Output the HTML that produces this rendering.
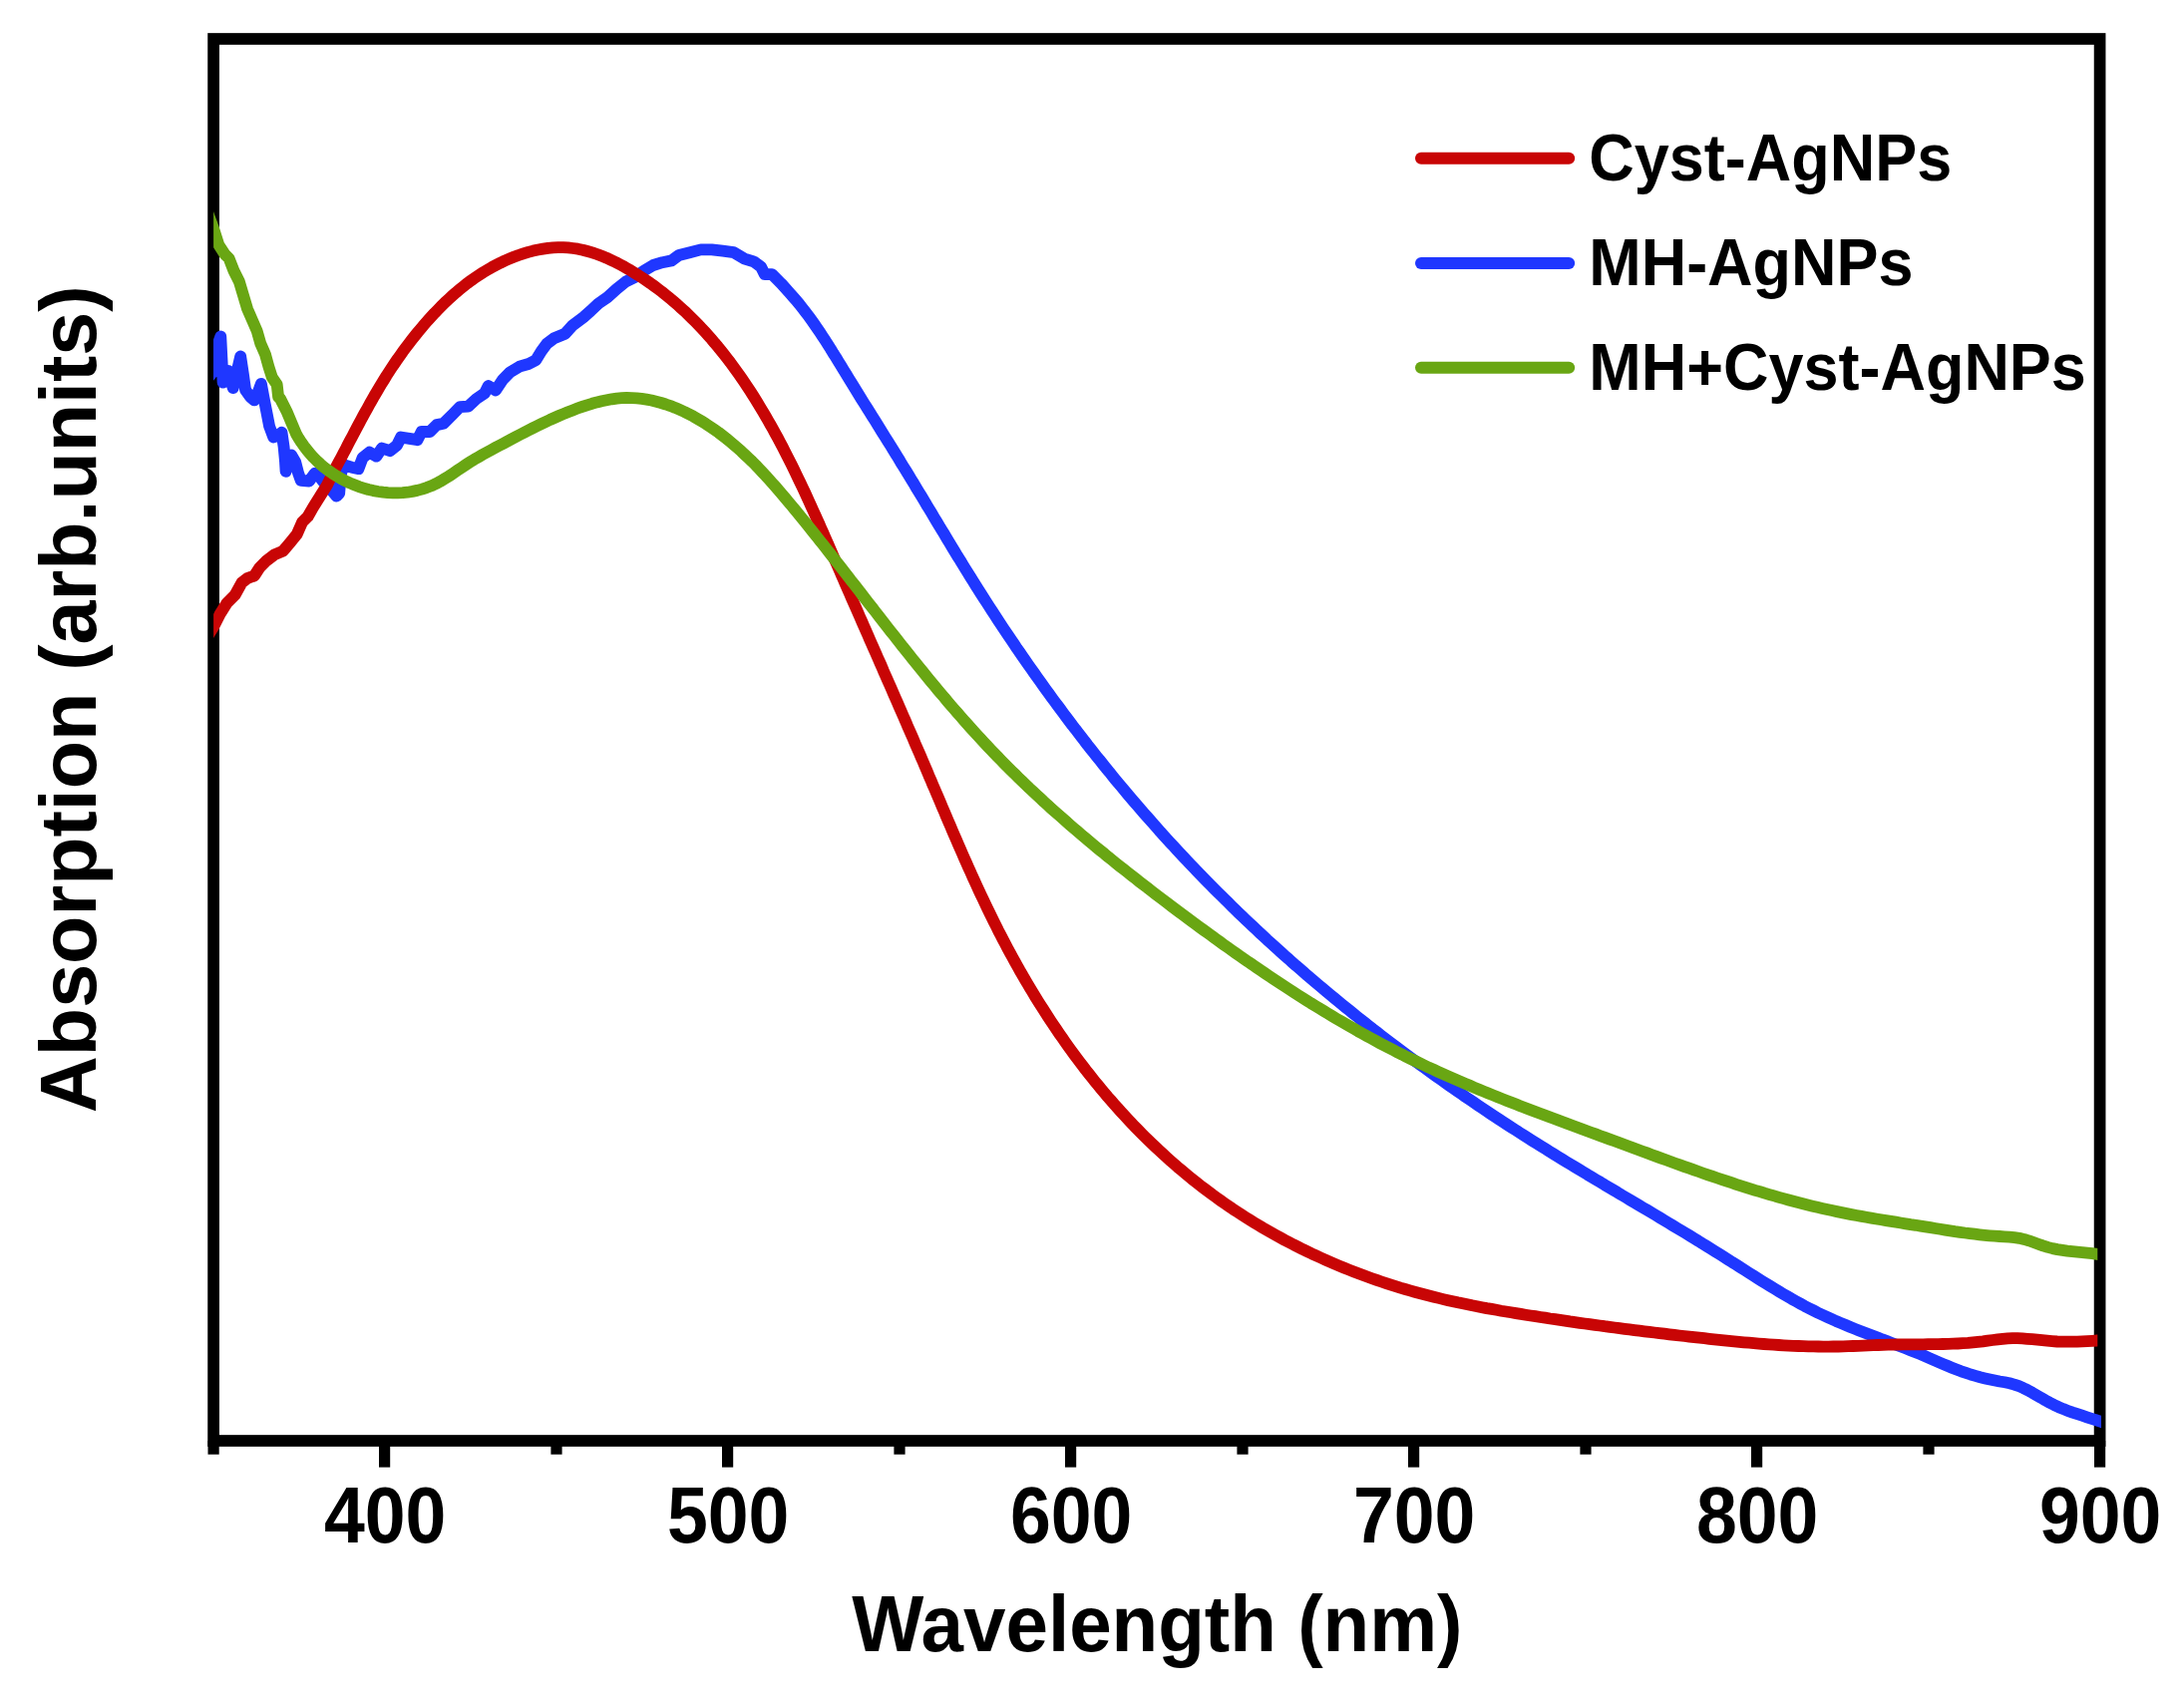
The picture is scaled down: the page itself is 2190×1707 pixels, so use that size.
<!DOCTYPE html>
<html lang="en">
<head>
<meta charset="utf-8">
<title>Absorption spectra of AgNPs</title>
<style>
html,body{margin:0;padding:0;background:#fff;}
body{width:2190px;height:1707px;overflow:hidden;}
svg{display:block;}
text{font-family:"Liberation Sans",sans-serif;font-weight:700;fill:#000;}
.tick{font-size:75.5px;text-anchor:middle;}
.axis{font-size:75.5px;text-anchor:middle;}
.leg{font-size:63px;text-anchor:start;}
.curve{fill:none;stroke-width:11.8;stroke-linejoin:round;stroke-linecap:butt;}
</style>
</head>
<body>
<svg width="2190" height="1707" viewBox="0 0 2190 1707">
<rect x="0" y="0" width="2190" height="1707" fill="#ffffff"/>
<defs>
<clipPath id="plotclip"><rect x="214.1" y="39" width="1889.2" height="1406"/></clipPath>
<clipPath id="plotclipb"><rect x="214.1" y="39" width="1893" height="1406"/></clipPath>
</defs>
<!-- frame -->
<rect x="214.1" y="39" width="1891.5" height="1406" fill="none" stroke="#000" stroke-width="11.7"/>
<!-- ticks -->
<g stroke="#000" stroke-width="11.2" fill="none">
<line x1="385.6" y1="1445" x2="385.6" y2="1471.6"/>
<line x1="729.6" y1="1445" x2="729.6" y2="1471.6"/>
<line x1="1073.6" y1="1445" x2="1073.6" y2="1471.6"/>
<line x1="1417.6" y1="1445" x2="1417.6" y2="1471.6"/>
<line x1="1761.6" y1="1445" x2="1761.6" y2="1471.6"/>
<line x1="2105.6" y1="1445" x2="2105.6" y2="1471.6"/>
<line x1="214.1" y1="1445" x2="214.1" y2="1458.7"/>
<line x1="558" y1="1445" x2="558" y2="1458.7"/>
<line x1="902" y1="1445" x2="902" y2="1458.7"/>
<line x1="1246" y1="1445" x2="1246" y2="1458.7"/>
<line x1="1590" y1="1445" x2="1590" y2="1458.7"/>
<line x1="1934" y1="1445" x2="1934" y2="1458.7"/>
</g>
<!-- tick labels -->
<text class="tick" transform="translate(386.2,1547.3) scale(0.973,1.044)">400</text>
<text class="tick" transform="translate(730.2,1547.3) scale(0.973,1.044)">500</text>
<text class="tick" transform="translate(1074.2,1547.3) scale(0.973,1.044)">600</text>
<text class="tick" transform="translate(1418.2,1547.3) scale(0.973,1.044)">700</text>
<text class="tick" transform="translate(1762.2,1547.3) scale(0.973,1.044)">800</text>
<text class="tick" transform="translate(2106.2,1547.3) scale(0.973,1.044)">900</text>
<!-- axis titles -->
<text class="axis" transform="translate(1160.4,1656) scale(1.0113,1.06)">Wavelength (nm)</text>
<text class="axis" transform="translate(96.1,701.3) rotate(-90) scale(1.047,1.06)">Absorption (arb.units)</text>
<!-- curves -->
<g clip-path="url(#plotclipb)"><path class="curve" stroke="#1F37FF" d="M208.0,380.0L214.2,371.9L216.5,351.2L221.3,337.5L222.7,365.0L223.6,383.6L228.9,371.9L233.7,389.1L237.8,371.9L241.2,357.4L244.0,376.0L246.1,391.1L250.9,398.0L255.0,401.4L259.1,392.5L261.9,384.9L264.6,399.4L267.4,413.7L270.1,427.5L274.2,438.5L278.4,437.1L282.5,433.7L284.6,448.1L285.9,461.9L286.6,472.9L289.4,464.6L292.1,456.4L296.2,463.2L299.0,474.2L301.7,481.8L310.0,482.5L315.5,474.9L319.6,477.0L323.7,482.5L330.6,489.4L337.5,497.6L340.2,494.9L341.6,477.0L344.4,466.0L352.6,468.7L359.5,470.1L363.6,459.1L370.5,453.6L377.4,457.7L382.9,449.5L391.1,452.2L398.0,446.7L402.1,438.5L410.4,439.9L418.6,441.2L422.7,433.0L431.0,433.0L437.9,426.1L444.7,424.7L454.4,415.1L461.2,408.2L469.5,407.6L477.7,400.0L486.0,394.3L489.6,387.0L497.0,391.6L504.3,380.6L511.6,373.2L520.8,367.7L530.0,365.0L537.3,361.3L542.8,352.2L548.3,344.8L555.6,339.3L566.6,334.7L574.0,326.5L585.0,318.2L592.3,311.8L600.0,304.5L609.2,298.1L618.3,289.8L627.5,282.5L636.7,277.9L645.8,271.5L655.0,266.0L664.2,263.2L673.3,261.4L680.7,255.9L691.7,253.2L702.7,250.4L713.7,250.4L724.7,251.7L735.7,253.2L746.7,259.6L755.8,262.3L763.2,267.8L766.8,275.2L774.2,275.2L783.3,284.3L792.3,294.4L795.5,298.0L798.7,301.7L801.8,305.4L804.9,309.3L807.8,313.1L810.8,317.0L813.7,321.0L816.5,325.0L819.3,329.1L822.1,333.2L824.9,337.4L827.6,341.5L830.2,345.7L832.9,349.9L835.5,354.2L838.2,358.4L840.8,362.7L843.4,366.9L846.0,371.2L848.6,375.4L851.2,379.7L853.8,383.9L856.4,388.1L859.0,392.3L861.6,396.6L864.2,400.8L866.8,405.0L869.5,409.2L872.1,413.4L874.7,417.6L877.3,421.7L879.9,425.9L882.5,430.1L885.1,434.3L887.7,438.5L890.3,442.7L893.0,446.9L895.6,451.1L898.2,455.3L900.8,459.5L903.3,463.8L905.9,468.0L908.5,472.2L911.1,476.4L913.7,480.7L916.3,484.9L918.8,489.2L921.4,493.5L924.0,497.7L926.6,502.0L929.1,506.3L931.7,510.5L934.3,514.8L936.8,519.1L939.4,523.4L942.0,527.7L944.6,532.0L947.2,536.2L949.7,540.5L952.3,544.8L954.9,549.1L957.5,553.4L960.1,557.7L962.8,561.9L965.4,566.2L968.0,570.5L970.6,574.7L973.3,579.0L975.9,583.2L978.6,587.5L981.3,591.7L984.0,596.0L986.7,600.2L989.4,604.4L992.1,608.6L994.8,612.8L997.6,617.0L1000.3,621.2L1003.1,625.4L1005.8,629.6L1008.6,633.8L1011.4,637.9L1014.2,642.1L1017.0,646.2L1019.8,650.4L1022.7,654.5L1025.5,658.6L1028.3,662.7L1031.2,666.8L1034.1,670.9L1037.0,675.0L1039.9,679.1L1042.8,683.2L1045.7,687.2L1048.6,691.3L1051.5,695.3L1054.5,699.4L1057.4,703.4L1060.4,707.4L1063.4,711.4L1066.3,715.4L1069.3,719.4L1072.3,723.4L1075.3,727.4L1078.4,731.3L1081.4,735.3L1084.4,739.2L1087.5,743.1L1090.5,747.1L1093.6,751.0L1096.7,754.9L1099.8,758.8L1102.9,762.6L1106.0,766.5L1109.1,770.4L1112.3,774.2L1115.4,778.1L1118.5,781.9L1121.7,785.7L1124.9,789.5L1128.0,793.3L1131.2,797.1L1134.4,800.8L1137.6,804.6L1140.9,808.4L1144.1,812.1L1147.3,815.8L1150.6,819.5L1153.8,823.2L1157.1,826.9L1160.4,830.6L1163.6,834.3L1166.9,837.9L1170.2,841.6L1173.5,845.2L1176.9,848.8L1180.2,852.4L1183.5,856.0L1186.9,859.6L1190.3,863.2L1193.6,866.7L1197.0,870.3L1200.4,873.8L1203.8,877.3L1207.2,880.8L1210.6,884.3L1214.1,887.8L1217.5,891.3L1221.0,894.8L1224.4,898.2L1227.9,901.7L1231.4,905.1L1234.9,908.6L1238.4,912.0L1241.9,915.4L1245.4,918.8L1249.0,922.2L1252.5,925.5L1256.1,928.9L1259.7,932.3L1263.2,935.6L1266.8,938.9L1270.4,942.3L1274.1,945.6L1277.7,948.9L1281.3,952.2L1285.0,955.5L1288.7,958.8L1292.4,962.0L1296.0,965.3L1299.7,968.6L1303.5,971.8L1307.2,975.0L1310.9,978.3L1314.7,981.5L1318.5,984.7L1322.2,987.9L1326.0,991.1L1329.8,994.3L1333.7,997.5L1337.5,1000.6L1341.3,1003.8L1345.2,1007.0L1349.0,1010.1L1352.9,1013.2L1356.8,1016.4L1360.7,1019.5L1364.6,1022.6L1368.5,1025.7L1372.5,1028.8L1376.4,1031.9L1380.4,1034.9L1384.3,1038.0L1388.3,1041.1L1392.3,1044.1L1396.3,1047.1L1400.3,1050.2L1404.3,1053.2L1408.3,1056.2L1412.4,1059.2L1416.4,1062.2L1420.4,1065.2L1424.5,1068.1L1428.6,1071.1L1432.6,1074.0L1436.7,1077.0L1440.8,1079.9L1444.9,1082.8L1449.0,1085.7L1453.1,1088.6L1457.2,1091.5L1461.4,1094.4L1465.5,1097.2L1469.6,1100.1L1473.8,1102.9L1477.9,1105.7L1482.1,1108.6L1486.3,1111.4L1490.4,1114.2L1494.6,1117.0L1498.8,1119.7L1503.0,1122.5L1507.2,1125.2L1511.4,1128.0L1515.6,1130.7L1519.8,1133.4L1524.0,1136.1L1528.2,1138.8L1532.5,1141.5L1536.7,1144.2L1540.9,1146.8L1545.2,1149.5L1549.4,1152.1L1553.6,1154.8L1557.9,1157.4L1562.1,1160.0L1566.4,1162.6L1570.6,1165.2L1574.9,1167.8L1579.2,1170.4L1583.4,1172.9L1587.7,1175.5L1591.9,1178.1L1596.2,1180.6L1600.5,1183.2L1604.8,1185.7L1609.0,1188.3L1613.3,1190.8L1617.6,1193.4L1621.9,1195.9L1626.1,1198.5L1630.4,1201.0L1634.7,1203.6L1639.0,1206.1L1643.2,1208.6L1647.5,1211.2L1651.8,1213.7L1656.1,1216.3L1660.3,1218.8L1664.6,1221.4L1668.9,1224.0L1673.1,1226.5L1677.4,1229.1L1681.7,1231.7L1686.0,1234.3L1690.2,1236.8L1694.5,1239.4L1698.7,1242.0L1703.0,1244.6L1707.2,1247.3L1711.5,1249.9L1715.7,1252.5L1720.0,1255.2L1724.2,1257.8L1728.5,1260.5L1732.7,1263.2L1736.9,1265.9L1741.2,1268.5L1745.4,1271.2L1749.6,1273.9L1753.8,1276.6L1758.1,1279.3L1762.3,1282.0L1766.6,1284.7L1770.8,1287.3L1775.1,1289.9L1779.4,1292.5L1783.7,1295.1L1788.0,1297.7L1792.3,1300.2L1796.6,1302.7L1801.0,1305.1L1805.3,1307.5L1809.7,1309.9L1814.2,1312.2L1818.6,1314.4L1823.1,1316.7L1827.5,1318.8L1832.1,1320.9L1836.6,1322.9L1841.2,1325.0L1845.7,1326.9L1850.3,1328.8L1854.9,1330.7L1859.6,1332.6L1864.2,1334.4L1868.9,1336.2L1873.5,1338.0L1878.2,1339.8L1882.9,1341.6L1887.5,1343.4L1892.2,1345.1L1896.9,1346.9L1901.6,1348.7L1906.2,1350.5L1910.9,1352.3L1915.6,1354.2L1920.2,1356.0L1924.9,1357.9L1929.5,1359.8L1934.1,1361.8L1938.7,1363.8L1943.3,1365.8L1947.9,1367.8L1952.6,1369.8L1957.2,1371.7L1961.8,1373.5L1966.5,1375.3L1971.3,1376.9L1976.0,1378.5L1980.8,1379.9L1985.6,1381.2L1990.5,1382.4L1995.4,1383.5L2000.3,1384.5L2005.2,1385.5L2010.1,1386.3L2015.0,1387.3L2019.8,1388.6L2024.5,1390.2L2029.0,1392.2L2033.5,1394.4L2037.9,1396.8L2042.2,1399.3L2046.6,1401.8L2050.9,1404.4L2055.3,1406.8L2059.8,1409.1L2064.3,1411.2L2068.9,1413.1L2073.6,1414.9L2078.3,1416.6L2083.1,1418.2L2087.8,1419.7L2092.6,1421.3L2097.4,1422.8L2102.2,1424.4L2106.9,1426.0L2114.9,1428.6"/></g>
<g clip-path="url(#plotclip)"><path class="curve" stroke="#C80505" d="M204.0,645.0L214.4,628.2L220.6,615.9L227.5,604.9L235.7,596.6L242.6,584.2L248.1,580.1L255.0,577.4L260.5,569.1L267.4,562.2L275.6,556.1L283.9,552.6L290.7,544.4L297.6,536.1L303.1,523.7L308.6,518.2L314.1,508.6L321.0,497.6L327.9,486.6L335.4,471.4L337.7,467.2L339.9,463.0L342.2,458.8L344.4,454.6L346.6,450.4L348.7,446.3L350.9,442.1L353.1,438.0L355.3,433.8L357.4,429.7L359.6,425.6L361.8,421.5L364.0,417.4L366.2,413.4L368.5,409.3L370.7,405.2L373.0,401.2L375.3,397.1L377.7,393.1L380.1,389.0L382.5,385.0L385.0,381.0L387.5,376.9L390.1,372.9L392.7,368.9L395.4,364.9L398.1,360.9L401.0,356.8L403.8,352.8L406.8,348.8L409.7,344.9L412.8,340.9L415.9,337.0L419.1,333.0L422.3,329.2L425.6,325.3L428.9,321.5L432.3,317.8L435.7,314.1L439.2,310.5L442.7,306.9L446.2,303.4L449.9,300.0L453.5,296.7L457.2,293.4L460.9,290.3L464.7,287.2L468.5,284.2L472.4,281.3L476.4,278.5L480.4,275.8L484.4,273.2L488.6,270.7L492.8,268.3L497.1,266.0L501.4,263.8L505.9,261.7L510.5,259.7L515.1,257.8L519.9,256.0L524.7,254.4L529.6,252.9L534.5,251.6L539.5,250.5L544.5,249.6L549.6,248.8L554.6,248.3L559.6,248.1L564.7,248.1L569.6,248.4L574.6,249.0L579.5,249.7L584.4,250.7L589.2,252.0L594.0,253.4L598.8,255.0L603.5,256.8L608.2,258.7L612.8,260.8L617.4,263.0L621.9,265.4L626.4,267.8L630.8,270.3L635.1,273.0L639.4,275.6L643.7,278.4L647.8,281.2L652.0,284.0L656.0,286.9L660.0,289.9L664.0,292.9L667.8,296.0L671.7,299.1L675.4,302.3L679.2,305.5L682.8,308.8L686.5,312.1L690.0,315.5L693.5,318.9L697.0,322.4L700.4,325.9L703.8,329.5L707.1,333.1L710.4,336.7L713.7,340.4L716.8,344.2L720.0,347.9L723.1,351.7L726.2,355.6L729.2,359.5L732.2,363.4L735.1,367.4L738.0,371.4L740.9,375.4L743.7,379.4L746.5,383.5L749.3,387.7L752.0,391.8L754.7,396.0L757.3,400.2L759.9,404.4L762.5,408.7L765.1,413.0L767.6,417.3L770.1,421.6L772.6,426.0L775.1,430.4L777.5,434.8L779.9,439.2L782.3,443.7L784.6,448.1L786.9,452.6L789.2,457.1L791.5,461.6L793.8,466.2L796.0,470.7L798.2,475.3L800.4,479.8L802.6,484.4L804.8,489.0L807.0,493.6L809.1,498.2L811.2,502.9L813.3,507.5L815.4,512.1L817.5,516.7L819.6,521.4L821.7,526.0L823.7,530.7L825.8,535.3L827.8,540.0L829.9,544.6L831.9,549.3L833.9,553.9L835.9,558.6L837.9,563.2L840.0,567.9L842.0,572.5L844.0,577.1L846.0,581.7L848.0,586.3L850.0,590.9L852.0,595.5L854.0,600.1L856.0,604.7L858.1,609.3L860.1,613.9L862.1,618.5L864.1,623.0L866.1,627.6L868.1,632.2L870.1,636.7L872.1,641.3L874.1,645.8L876.1,650.4L878.1,654.9L880.1,659.5L882.1,664.0L884.1,668.5L886.0,673.1L888.0,677.6L890.0,682.2L892.0,686.7L894.0,691.2L896.0,695.8L898.0,700.3L900.0,704.9L901.9,709.4L903.9,713.9L905.9,718.5L907.9,723.0L909.8,727.6L911.8,732.1L913.8,736.7L915.8,741.2L917.7,745.8L919.7,750.3L921.7,754.9L923.6,759.4L925.6,764.0L927.5,768.6L929.5,773.2L931.4,777.8L933.4,782.3L935.3,786.9L937.3,791.5L939.2,796.1L941.2,800.7L943.2,805.3L945.1,809.9L947.1,814.5L949.0,819.2L951.0,823.8L953.0,828.4L954.9,833.0L956.9,837.6L958.9,842.2L960.9,846.8L962.9,851.4L964.9,856.0L966.9,860.6L969.0,865.2L971.0,869.8L973.1,874.4L975.1,879.0L977.2,883.5L979.3,888.1L981.4,892.7L983.5,897.2L985.7,901.8L987.8,906.3L990.0,910.8L992.2,915.4L994.4,919.9L996.6,924.4L998.9,928.9L1001.1,933.4L1003.4,937.8L1005.7,942.3L1008.1,946.8L1010.4,951.2L1012.8,955.6L1015.2,960.0L1017.6,964.4L1020.1,968.8L1022.5,973.2L1025.0,977.5L1027.5,981.9L1030.1,986.2L1032.6,990.5L1035.2,994.8L1037.8,999.1L1040.4,1003.3L1043.1,1007.6L1045.8,1011.8L1048.5,1016.0L1051.2,1020.2L1053.9,1024.4L1056.7,1028.6L1059.5,1032.7L1062.3,1036.8L1065.2,1040.9L1068.0,1045.0L1070.9,1049.1L1073.8,1053.1L1076.8,1057.2L1079.8,1061.2L1082.8,1065.2L1085.8,1069.1L1088.8,1073.1L1091.9,1077.0L1095.0,1080.9L1098.1,1084.8L1101.2,1088.6L1104.4,1092.5L1107.6,1096.3L1110.8,1100.1L1114.1,1103.8L1117.4,1107.6L1120.7,1111.3L1124.0,1115.0L1127.3,1118.6L1130.7,1122.3L1134.1,1125.9L1137.5,1129.5L1141.0,1133.0L1144.5,1136.6L1148.0,1140.1L1151.5,1143.5L1155.1,1147.0L1158.7,1150.4L1162.3,1153.8L1166.0,1157.2L1169.6,1160.5L1173.3,1163.8L1177.1,1167.1L1180.8,1170.4L1184.6,1173.6L1188.4,1176.8L1192.3,1180.0L1196.1,1183.1L1200.0,1186.2L1204.0,1189.3L1207.9,1192.3L1211.9,1195.3L1215.9,1198.3L1220.0,1201.2L1224.0,1204.1L1228.1,1207.0L1232.3,1209.9L1236.4,1212.7L1240.6,1215.4L1244.8,1218.2L1249.0,1220.9L1253.3,1223.6L1257.6,1226.2L1261.9,1228.8L1266.2,1231.4L1270.6,1233.9L1275.0,1236.4L1279.4,1238.9L1283.8,1241.3L1288.2,1243.7L1292.7,1246.0L1297.2,1248.4L1301.7,1250.6L1306.2,1252.9L1310.8,1255.1L1315.3,1257.3L1319.9,1259.4L1324.5,1261.5L1329.1,1263.6L1333.7,1265.6L1338.3,1267.6L1343.0,1269.6L1347.6,1271.5L1352.3,1273.4L1357.0,1275.2L1361.7,1277.0L1366.4,1278.8L1371.1,1280.5L1375.8,1282.2L1380.6,1283.9L1385.3,1285.5L1390.1,1287.1L1394.8,1288.6L1399.6,1290.1L1404.3,1291.6L1409.1,1293.0L1413.9,1294.4L1418.6,1295.7L1423.4,1297.0L1428.2,1298.3L1433.0,1299.5L1437.8,1300.7L1442.6,1301.9L1447.4,1303.1L1452.2,1304.2L1457.0,1305.2L1461.8,1306.3L1466.7,1307.3L1471.5,1308.3L1476.3,1309.3L1481.2,1310.2L1486.0,1311.2L1490.8,1312.1L1495.7,1312.9L1500.6,1313.8L1505.4,1314.7L1510.3,1315.5L1515.2,1316.3L1520.1,1317.1L1525.0,1317.9L1529.8,1318.7L1534.8,1319.5L1539.7,1320.2L1544.6,1321.0L1549.5,1321.7L1554.4,1322.5L1559.4,1323.2L1564.3,1323.9L1569.3,1324.6L1574.2,1325.4L1579.2,1326.1L1584.1,1326.8L1589.1,1327.5L1594.1,1328.2L1599.1,1328.8L1604.1,1329.5L1609.0,1330.2L1614.0,1330.8L1619.0,1331.5L1624.0,1332.2L1629.0,1332.8L1634.0,1333.4L1639.0,1334.1L1644.0,1334.7L1649.0,1335.3L1654.0,1335.9L1659.0,1336.5L1664.0,1337.1L1669.0,1337.7L1674.0,1338.3L1679.0,1338.9L1684.0,1339.5L1689.0,1340.0L1694.0,1340.6L1699.0,1341.2L1704.0,1341.7L1709.0,1342.2L1714.0,1342.8L1719.0,1343.3L1723.9,1343.8L1728.9,1344.4L1733.9,1344.9L1738.9,1345.3L1743.9,1345.8L1748.8,1346.3L1753.8,1346.7L1758.8,1347.2L1763.7,1347.6L1768.7,1348.0L1773.7,1348.3L1778.6,1348.7L1783.6,1349.0L1788.6,1349.3L1793.5,1349.6L1798.5,1349.8L1803.5,1350.0L1808.4,1350.2L1813.4,1350.3L1818.4,1350.4L1823.4,1350.5L1828.3,1350.6L1833.3,1350.6L1838.3,1350.5L1843.3,1350.5L1848.3,1350.3L1853.3,1350.2L1858.3,1350.0L1863.3,1349.8L1868.3,1349.6L1873.3,1349.4L1878.3,1349.2L1883.3,1349.0L1888.3,1348.9L1893.3,1348.7L1898.3,1348.6L1903.3,1348.5L1908.3,1348.4L1913.3,1348.3L1918.3,1348.3L1923.3,1348.3L1928.3,1348.3L1933.3,1348.2L1938.3,1348.2L1943.3,1348.1L1948.3,1348.0L1953.3,1347.9L1958.3,1347.7L1963.3,1347.5L1968.3,1347.2L1973.3,1346.9L1978.3,1346.4L1983.3,1345.9L1988.3,1345.3L1993.2,1344.6L1998.2,1344.0L2003.2,1343.3L2008.1,1342.8L2013.1,1342.4L2018.1,1342.2L2023.0,1342.2L2028.0,1342.4L2032.9,1342.8L2037.9,1343.2L2042.9,1343.7L2047.9,1344.2L2052.8,1344.7L2057.8,1345.1L2062.8,1345.5L2067.8,1345.7L2072.8,1345.7L2077.8,1345.7L2082.9,1345.6L2087.9,1345.4L2092.9,1345.1L2097.9,1344.8L2102.9,1344.5L2110.9,1344.1"/>
<path class="curve" stroke="#69A613" d="M204.0,202.0L214.2,229.6L219.2,245.4L225.4,255.0L229.6,259.1L234.4,271.5L239.9,282.5L244.0,296.2L248.1,310.0L252.9,321.0L257.7,332.0L261.2,344.4L266.0,355.4L269.4,367.7L272.9,378.7L277.7,385.6L279.1,398.0L281.1,400.0L288.0,413.7L297.0,435.3L299.5,439.6L302.2,443.7L305.0,447.7L308.0,451.5L311.1,455.3L314.4,458.9L317.9,462.4L321.5,465.7L325.3,468.9L329.2,471.9L333.3,474.7L337.5,477.4L341.8,479.9L346.2,482.2L350.7,484.4L355.3,486.3L359.9,488.1L364.7,489.6L369.5,491.0L374.3,492.1L379.2,493.0L384.1,493.7L389.0,494.2L393.9,494.4L398.8,494.4L403.8,494.2L408.7,493.7L413.5,492.9L418.3,491.9L423.1,490.6L427.8,489.1L432.5,487.3L437.0,485.2L441.5,482.8L445.9,480.2L450.3,477.5L454.6,474.6L458.8,471.7L463.1,468.8L467.3,466.0L471.5,463.3L475.7,460.7L479.9,458.3L484.0,455.9L488.2,453.6L492.4,451.3L496.6,449.1L500.7,446.9L504.9,444.7L509.0,442.5L513.2,440.3L517.4,438.1L521.5,435.9L525.7,433.7L530.0,431.5L534.2,429.4L538.5,427.2L542.8,425.1L547.1,423.1L551.5,421.0L556.0,419.0L560.5,417.0L565.0,415.1L569.6,413.2L574.3,411.4L579.1,409.6L583.9,407.9L588.7,406.3L593.6,404.8L598.6,403.4L603.5,402.2L608.5,401.2L613.5,400.3L618.5,399.6L623.6,399.2L628.5,399.0L633.5,399.1L638.5,399.4L643.4,399.9L648.3,400.6L653.2,401.5L658.0,402.7L662.8,404.0L667.6,405.5L672.3,407.1L677.0,408.9L681.6,410.9L686.2,413.0L690.7,415.3L695.2,417.6L699.5,420.1L703.9,422.7L708.1,425.3L712.3,428.1L716.4,430.9L720.5,433.8L724.4,436.8L728.4,439.9L732.2,443.0L736.0,446.2L739.7,449.4L743.4,452.7L747.0,456.1L750.6,459.5L754.2,462.9L757.7,466.4L761.1,470.0L764.5,473.6L767.9,477.2L771.2,480.9L774.5,484.6L777.8,488.3L781.1,492.1L784.3,495.8L787.5,499.6L790.7,503.5L793.9,507.3L797.1,511.1L800.3,515.0L803.4,518.9L806.6,522.8L809.7,526.7L812.8,530.5L816.0,534.5L819.1,538.4L822.2,542.3L825.3,546.2L828.4,550.1L831.5,554.1L834.6,558.0L837.7,562.0L840.8,565.9L843.9,569.9L847.0,573.8L850.1,577.8L853.1,581.8L856.2,585.7L859.3,589.7L862.4,593.6L865.4,597.6L868.5,601.6L871.6,605.6L874.7,609.5L877.8,613.5L880.8,617.4L883.9,621.4L887.0,625.4L890.1,629.3L893.2,633.3L896.3,637.2L899.4,641.2L902.5,645.1L905.6,649.1L908.8,653.0L911.9,656.9L915.0,660.8L918.2,664.7L921.3,668.6L924.5,672.5L927.7,676.4L930.8,680.3L934.0,684.2L937.2,688.0L940.4,691.9L943.6,695.7L946.9,699.5L950.1,703.4L953.3,707.2L956.6,711.0L959.9,714.7L963.2,718.5L966.5,722.3L969.8,726.0L973.1,729.7L976.5,733.4L979.8,737.1L983.2,740.8L986.6,744.5L990.0,748.1L993.4,751.7L996.9,755.3L1000.3,758.9L1003.8,762.5L1007.3,766.1L1010.8,769.6L1014.3,773.1L1017.9,776.6L1021.4,780.1L1025.0,783.6L1028.6,787.0L1032.2,790.5L1035.9,793.9L1039.5,797.3L1043.2,800.7L1046.8,804.1L1050.5,807.4L1054.2,810.8L1057.9,814.1L1061.7,817.4L1065.4,820.7L1069.2,824.0L1072.9,827.3L1076.7,830.6L1080.5,833.8L1084.3,837.1L1088.1,840.3L1091.9,843.5L1095.8,846.7L1099.6,849.9L1103.5,853.1L1107.4,856.2L1111.2,859.4L1115.1,862.5L1119.0,865.7L1122.9,868.8L1126.9,871.9L1130.8,875.0L1134.7,878.1L1138.7,881.2L1142.6,884.3L1146.6,887.4L1150.6,890.4L1154.5,893.5L1158.5,896.6L1162.5,899.6L1166.5,902.6L1170.5,905.7L1174.5,908.7L1178.5,911.7L1182.5,914.7L1186.6,917.7L1190.6,920.7L1194.6,923.7L1198.7,926.7L1202.7,929.7L1206.7,932.6L1210.8,935.6L1214.9,938.5L1218.9,941.5L1223.0,944.4L1227.1,947.4L1231.2,950.3L1235.3,953.2L1239.4,956.1L1243.5,959.0L1247.6,961.8L1251.7,964.7L1255.9,967.5L1260.0,970.4L1264.1,973.2L1268.3,976.0L1272.5,978.8L1276.6,981.6L1280.8,984.4L1285.0,987.2L1289.2,989.9L1293.4,992.6L1297.6,995.4L1301.8,998.1L1306.0,1000.7L1310.3,1003.4L1314.5,1006.1L1318.8,1008.7L1323.0,1011.3L1327.3,1013.9L1331.6,1016.5L1335.9,1019.1L1340.2,1021.7L1344.5,1024.2L1348.8,1026.7L1353.1,1029.2L1357.5,1031.7L1361.8,1034.2L1366.2,1036.6L1370.5,1039.0L1374.9,1041.4L1379.3,1043.8L1383.7,1046.2L1388.1,1048.5L1392.5,1050.8L1397.0,1053.1L1401.4,1055.4L1405.9,1057.6L1410.3,1059.9L1414.8,1062.1L1419.3,1064.2L1423.8,1066.4L1428.3,1068.5L1432.8,1070.7L1437.4,1072.7L1441.9,1074.8L1446.5,1076.9L1451.0,1078.9L1455.6,1080.9L1460.2,1082.9L1464.8,1084.9L1469.4,1086.9L1474.0,1088.8L1478.6,1090.8L1483.2,1092.7L1487.8,1094.6L1492.4,1096.5L1497.1,1098.4L1501.7,1100.2L1506.4,1102.1L1511.0,1103.9L1515.7,1105.8L1520.3,1107.6L1525.0,1109.4L1529.7,1111.2L1534.3,1113.0L1539.0,1114.8L1543.7,1116.5L1548.4,1118.3L1553.1,1120.1L1557.8,1121.8L1562.5,1123.6L1567.1,1125.3L1571.8,1127.1L1576.5,1128.8L1581.2,1130.5L1585.9,1132.3L1590.6,1134.0L1595.3,1135.7L1600.0,1137.4L1604.7,1139.2L1609.4,1140.9L1614.1,1142.6L1618.8,1144.3L1623.5,1146.1L1628.2,1147.8L1632.9,1149.5L1637.6,1151.3L1642.3,1153.0L1647.0,1154.7L1651.7,1156.4L1656.4,1158.2L1661.0,1159.9L1665.7,1161.6L1670.4,1163.3L1675.1,1165.0L1679.8,1166.7L1684.5,1168.4L1689.2,1170.1L1693.9,1171.7L1698.6,1173.4L1703.3,1175.0L1708.0,1176.7L1712.7,1178.3L1717.4,1179.9L1722.1,1181.5L1726.9,1183.1L1731.6,1184.7L1736.3,1186.2L1741.0,1187.8L1745.8,1189.3L1750.5,1190.8L1755.3,1192.3L1760.0,1193.8L1764.8,1195.2L1769.5,1196.7L1774.3,1198.1L1779.1,1199.4L1783.9,1200.8L1788.7,1202.1L1793.5,1203.5L1798.3,1204.8L1803.1,1206.0L1807.9,1207.3L1812.7,1208.5L1817.6,1209.7L1822.4,1210.8L1827.3,1211.9L1832.1,1213.0L1837.0,1214.1L1841.9,1215.1L1846.8,1216.1L1851.7,1217.1L1856.6,1218.1L1861.5,1219.0L1866.5,1219.9L1871.4,1220.8L1876.3,1221.6L1881.3,1222.5L1886.2,1223.3L1891.2,1224.1L1896.1,1224.9L1901.1,1225.7L1906.0,1226.5L1911.0,1227.3L1915.9,1228.1L1920.9,1228.8L1925.8,1229.6L1930.7,1230.4L1935.7,1231.2L1940.6,1232.0L1945.5,1232.8L1950.5,1233.6L1955.4,1234.3L1960.3,1235.1L1965.3,1235.8L1970.2,1236.5L1975.2,1237.1L1980.1,1237.7L1985.1,1238.3L1990.0,1238.8L1995.0,1239.3L2000.0,1239.7L2005.0,1240.0L2010.0,1240.3L2014.9,1240.6L2019.9,1241.1L2024.8,1241.8L2029.6,1242.9L2034.4,1244.3L2039.2,1246.0L2043.9,1247.7L2048.6,1249.4L2053.4,1250.9L2058.2,1252.1L2063.1,1253.1L2068.1,1253.9L2073.0,1254.6L2078.0,1255.2L2083.0,1255.7L2088.0,1256.1L2093.0,1256.7L2098.0,1257.2L2102.9,1257.9L2110.9,1258.9"/></g>
<!-- legend -->
<g stroke-width="12" stroke-linecap="round" fill="none">
<line x1="1425" y1="158.7" x2="1573.2" y2="158.7" stroke="#C80505"/>
<line x1="1425" y1="263.9" x2="1573.2" y2="263.9" stroke="#1F37FF"/>
<line x1="1425" y1="368.7" x2="1573.2" y2="368.7" stroke="#69A613"/>
</g>
<text class="leg" transform="translate(1593.2,180.8) scale(1,1.065)">Cyst-AgNPs</text>
<text class="leg" transform="translate(1593.2,285.6) scale(1,1.065)">MH-AgNPs</text>
<text class="leg" transform="translate(1593.2,390.8) scale(1,1.065)">MH+Cyst-AgNPs</text>
</svg>
</body>
</html>
